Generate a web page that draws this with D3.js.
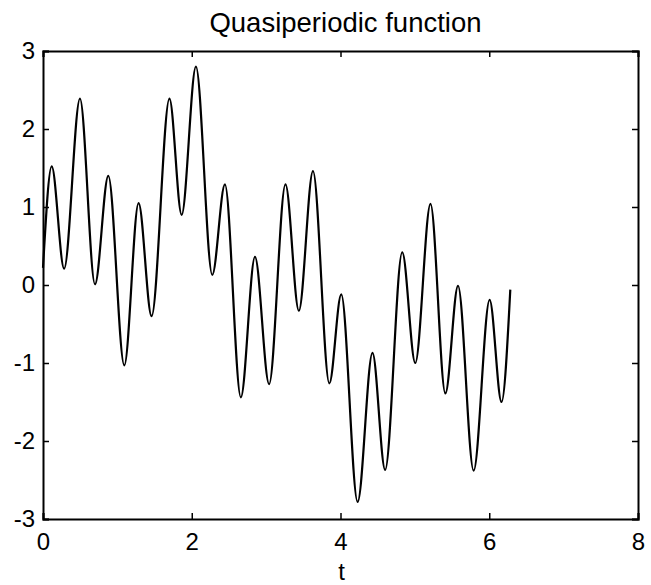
<!DOCTYPE html>
<html>
<head>
<meta charset="utf-8">
<script src="https://cdn.jsdelivr.net/npm/d3@7"></script>
<style>
  html, body { margin: 0; padding: 0; background: #fff; }
  svg { display: block; }
  text { font-family: "Liberation Sans", Arial, sans-serif; fill: #000; }
</style>
</head>
<body>
<svg id="chart" width="651" height="585"></svg>
<script>
// Data: local extrema (plus end points) of the curve
const tValues = [0, 0.117, 0.284, 0.497, 0.699, 0.878, 1.093, 1.285, 1.46, 1.70, 1.864, 2.056, 2.276, 2.446, 2.66, 2.85, 3.04, 3.26, 3.44, 3.63, 3.85, 4.01, 4.23, 4.43, 4.60, 4.83, 5.005, 5.21, 5.41, 5.58, 5.79, 6.005, 6.165, 6.283];
const fValues = [0.22, 1.52, 0.21, 2.39, 0.01, 1.40, -1.03, 1.05, -0.40, 2.39, 0.90, 2.80, 0.13, 1.29, -1.44, 0.36, -1.27, 1.29, -0.33, 1.46, -1.26, -0.12, -2.78, -0.87, -2.37, 0.42, -1.00, 1.04, -1.39, -0.01, -2.38, -0.19, -1.50, -0.06];
const xTicks = [0, 2, 4, 6, 8];
const yTicks = [-3, -2, -1, 0, 1, 2, 3];
const titleText = "Quasiperiodic function";
const xLabel = "t";

(function () {
  const points = tValues.map((t, i) => ({ t, f: fValues[i] }));

  const svg = d3.select("#chart");
  const margin = { left: 43, top: 51, right: 13, bottom: 66 };
  const W = 651, H = 585;
  const x = d3.scaleLinear().domain([0, 8]).range([margin.left, W - margin.right]);
  const y = d3.scaleLinear().domain([-3, 3]).range([H - margin.bottom, margin.top]);

  const tickLen = 6;

  // Curve
  const line = d3.line().x(d => x(d.t)).y(d => y(d.f)).curve(d3.curveMonotoneX);
  svg.append("path")
    .datum(points)
    .attr("d", line)
    .attr("fill", "none")
    .attr("stroke", "#000")
    .attr("stroke-width", 2.2)
    .attr("stroke-linejoin", "round");

  // Axes (ticks inward on all four sides)
  const gBottom = svg.append("g").attr("transform", `translate(0,${y(-3)})`)
    .call(d3.axisBottom(x).tickValues(xTicks).tickSize(-tickLen).tickPadding(14).tickFormat(d3.format("d")));
  const gTop = svg.append("g").attr("transform", `translate(0,${y(3)})`)
    .call(d3.axisTop(x).tickValues(xTicks).tickSize(-tickLen).tickFormat(""));
  const gLeft = svg.append("g").attr("transform", `translate(${x(0)},0)`)
    .call(d3.axisLeft(y).tickValues(yTicks).tickSize(-tickLen).tickPadding(8).tickFormat(d => d < 0 ? "-" + Math.abs(d) : String(d)));
  const gRight = svg.append("g").attr("transform", `translate(${x(8)},0)`)
    .call(d3.axisRight(y).tickValues(yTicks).tickSize(-tickLen).tickFormat(""));

  [gBottom, gTop, gLeft, gRight].forEach(g => {
    g.select(".domain").attr("stroke", "#000").attr("stroke-width", 2);
    g.selectAll(".tick line").attr("stroke", "#000").attr("stroke-width", 1.5);
    g.selectAll("text").style("font-family", "'Liberation Sans', Arial, sans-serif").style("font-size", "24px").attr("fill", "#000");
  });

  // Title and axis label
  svg.append("text")
    .attr("x", (x(0) + x(8)) / 2 + 5)
    .attr("y", 32)
    .attr("text-anchor", "middle")
    .style("font-size", "27.5px")
    .text(titleText);

  svg.append("text")
    .attr("x", (x(0) + x(8)) / 2 + 1)
    .attr("y", 579.5)
    .attr("text-anchor", "middle")
    .style("font-size", "24px")
    .text(xLabel);
})();
</script>
</body>
</html>
